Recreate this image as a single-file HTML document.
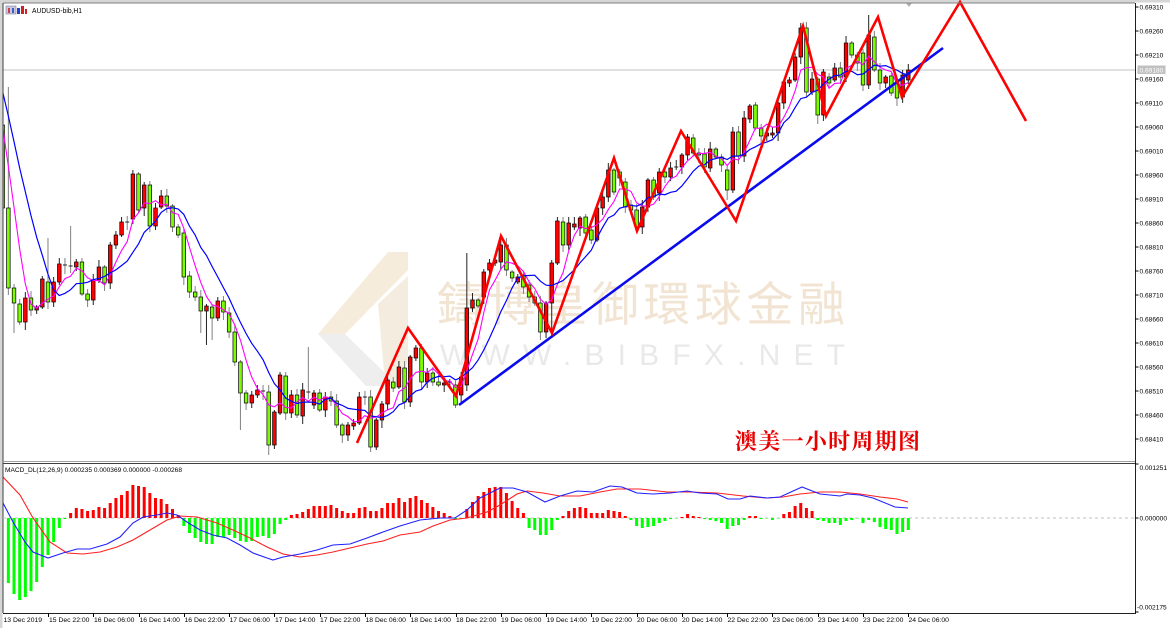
<!DOCTYPE html>
<html><head><meta charset="utf-8">
<style>
html,body{margin:0;padding:0;background:#fff;width:1170px;height:628px;overflow:hidden}
svg{display:block;position:absolute;left:0;top:0}
text{font-family:"Liberation Sans",sans-serif}
</style></head><body>
<svg id="s" xmlns="http://www.w3.org/2000/svg" width="1170" height="628" viewBox="0 0 1170 628">
<defs>
<clipPath id="mainclip"><rect x="3.5" y="3.5" width="1131" height="457"/></clipPath>
<clipPath id="macdclip"><rect x="3.5" y="464.5" width="1131" height="148"/></clipPath>
</defs>
<rect width="1170" height="628" fill="#fff"/>
<rect x="0" y="0" width="1170" height="2.5" fill="#d6d6d6"/>
<rect x="0" y="0" width="2.5" height="628" fill="#d6d6d6"/>

<!-- watermark -->
<g>
<polygon points="388,252 408,252 408,270 345,334 318,334" fill="#f6ecdc"/>
<polygon points="318,334 345,334 384,372 396,386 366,386" fill="#eeeeee"/>
<polygon points="378,304 408,276 408,362 396,386 384,372" fill="#f4ecdf"/>
<text x="437" y="321" font-size="47" textLength="408" lengthAdjust="spacing" fill="#f2e4d2" style="font-family:'Liberation Sans','Noto Sans CJK TC','Noto Sans CJK SC',sans-serif">鑄博皇御環球金融</text>
<text x="440" y="365" font-size="30" textLength="405" lengthAdjust="spacing" fill="#e9e9e9">WWW.BIBFX.NET</text>
</g>

<!-- bid line -->
<line x1="3" y1="70" x2="1135" y2="70" stroke="#c0c0c0" stroke-width="1"/>

<g clip-path="url(#mainclip)">
<g id="wicks"></g>
<g id="bodies"></g>
<polyline id="ma5" fill="none" stroke="#ff00ff" stroke-width="1.1" points=""/>
<polyline id="ma10" fill="none" stroke="#0000ff" stroke-width="1.2" points=""/>
</g>

<!-- trend lines -->
<line x1="459" y1="405" x2="943" y2="48" stroke="#0a0aee" stroke-width="2.6"/>
<polyline fill="none" stroke="#ff0000" stroke-width="2.6" stroke-linejoin="miter" points="357,443 408,328 456,396 501,236 552,333 614,158 637,231 681,131 736,221 803,26 826,116 878,17 902,97 960,2 1026,121"/>

<text x="735" y="449" font-size="22" font-weight="bold" textLength="185" lengthAdjust="spacing" fill="#e80000" style="font-family:'Liberation Serif','Noto Serif CJK SC',serif">澳美一小时周期图</text>

<!-- header -->
<rect x="6" y="6" width="10" height="8" fill="#c8c8e0" stroke="#8080a0" stroke-width="0.6"/>
<rect x="8" y="8" width="2" height="5" fill="#d04040"/>
<rect x="12" y="8" width="2" height="5" fill="#4060c0"/>
<rect x="17" y="8" width="3" height="6" fill="#2040d0"/>
<rect x="21" y="6" width="3" height="8" fill="#d02020"/>
<rect x="25" y="9" width="2" height="5" fill="#d02020"/>
<text x="32" y="13" font-size="7" textLength="50" lengthAdjust="spacingAndGlyphs">AUDUSD-bib,H1</text>
<polygon points="906,3 912,3 909,7" fill="#b0b0b0"/>

<!-- frame -->
<line x1="3" y1="3" x2="1135" y2="3" stroke="#808080" stroke-width="1"/>
<line x1="3" y1="3" x2="3" y2="613" stroke="#404040" stroke-width="1"/>
<line x1="1135.5" y1="3" x2="1135.5" y2="613.5" stroke="#202020" stroke-width="1"/>
<line x1="3" y1="461.5" x2="1135" y2="461.5" stroke="#a0a0a0" stroke-width="1"/>
<line x1="3" y1="463.5" x2="1135" y2="463.5" stroke="#404040" stroke-width="1"/>
<line x1="3" y1="613.5" x2="1136" y2="613.5" stroke="#202020" stroke-width="1"/>

<!-- price axis -->
<g font-size="6.6" fill="#000" stroke="none">
<g stroke="#000" stroke-width="1">
<line x1="1135" y1="7" x2="1138.5" y2="7"/><line x1="1135" y1="31" x2="1138.5" y2="31"/><line x1="1135" y1="55" x2="1138.5" y2="55"/><line x1="1135" y1="79" x2="1138.5" y2="79"/><line x1="1135" y1="103" x2="1138.5" y2="103"/><line x1="1135" y1="127" x2="1138.5" y2="127"/><line x1="1135" y1="151" x2="1138.5" y2="151"/><line x1="1135" y1="175" x2="1138.5" y2="175"/><line x1="1135" y1="199" x2="1138.5" y2="199"/><line x1="1135" y1="223" x2="1138.5" y2="223"/><line x1="1135" y1="247" x2="1138.5" y2="247"/><line x1="1135" y1="271" x2="1138.5" y2="271"/><line x1="1135" y1="295" x2="1138.5" y2="295"/><line x1="1135" y1="319" x2="1138.5" y2="319"/><line x1="1135" y1="343" x2="1138.5" y2="343"/><line x1="1135" y1="367" x2="1138.5" y2="367"/><line x1="1135" y1="391" x2="1138.5" y2="391"/><line x1="1135" y1="415" x2="1138.5" y2="415"/><line x1="1135" y1="439" x2="1138.5" y2="439"/>
<line x1="1135" y1="464" x2="1138.5" y2="464"/><line x1="1135" y1="518" x2="1138.5" y2="518"/><line x1="1135" y1="612" x2="1138.5" y2="612"/>
</g>
<text x="1139.5" y="9.4">0.69310</text>
<text x="1139.5" y="33.4">0.69260</text>
<text x="1139.5" y="57.4">0.69210</text>
<text x="1139.5" y="81.4">0.69160</text>
<text x="1139.5" y="105.4">0.69110</text>
<text x="1139.5" y="129.4">0.69060</text>
<text x="1139.5" y="153.4">0.69010</text>
<text x="1139.5" y="177.4">0.68960</text>
<text x="1139.5" y="201.4">0.68910</text>
<text x="1139.5" y="225.4">0.68860</text>
<text x="1139.5" y="249.4">0.68810</text>
<text x="1139.5" y="273.4">0.68760</text>
<text x="1139.5" y="297.4">0.68710</text>
<text x="1139.5" y="321.4">0.68660</text>
<text x="1139.5" y="345.4">0.68610</text>
<text x="1139.5" y="369.4">0.68560</text>
<text x="1139.5" y="393.4">0.68510</text>
<text x="1139.5" y="417.4">0.68460</text>
<text x="1139.5" y="441.4">0.68410</text>
<rect x="1137.5" y="65.5" width="28" height="8.5" fill="#c0c0c0"/>
<text x="1139.5" y="72.4" fill="#fff">0.69180</text>
<text x="1139.5" y="469.8">0.001251</text>
<text x="1139.5" y="520.4">0.000000</text>
<text x="1137" y="609.6">-0.002175</text>
</g>

<!-- MACD panel -->
<line x1="3" y1="518" x2="1135" y2="518" stroke="#c0c0c0" stroke-width="1" stroke-dasharray="3,3"/>
<g clip-path="url(#macdclip)">
<g id="hist"></g>
<polyline fill="none" stroke="#ff2020" stroke-width="1.1" points="3,477 20,495 33,518 50,542 67,553 83,554 100,552 117,547 133,540 150,530 167,520 180,516 197,517 217,523 233,530 250,538 267,547 283,554 300,557 317,555 333,552 350,548 367,544 383,541 400,535 420,532 433,526 450,520 467,518 487,512 500,505 517,494 527,491 543,493 560,496 580,496 600,492 617,489 640,489 667,492 690,492 717,493 743,496 767,498 783,497 800,494 820,492 840,492 860,494 880,497 897,499 908,502"/>
<polyline fill="none" stroke="#2020ff" stroke-width="1.1" points="3,503 13,522 25,542 33,552 48,558 63,553 77,549 90,549 107,544 120,537 133,523 143,517 157,515 167,513 177,515 187,522 200,530 213,535 227,538 240,545 253,553 267,558 273,560 283,557 300,554 317,550 333,545 350,544 367,538 383,532 400,526 420,520 440,518 455,518 467,510 480,498 500,488 513,488 527,492 545,502 560,496 577,491 593,492 610,486 622,487 637,493 653,494 670,493 687,491 700,493 717,494 728,499 740,499 750,496 767,498 780,497 802,487 820,494 840,496 847,494 860,495 873,498 895,507 908,508"/>
</g>
<text x="5" y="472" font-size="6.6" textLength="177" lengthAdjust="spacingAndGlyphs">MACD_DL(12,26,9) 0.000235 0.000369 0.000000 -0.000268</text>

<!-- time axis -->
<g id="tticks" stroke="#000" stroke-width="1"></g>
<g font-size="6.8" fill="#000">
<text x="3.5" y="622">13 Dec 2019</text>
<text x="49" y="622">15 Dec 22:00</text>
<text x="94" y="622">16 Dec 06:00</text>
<text x="139.5" y="622">16 Dec 14:00</text>
<text x="184.5" y="622">16 Dec 22:00</text>
<text x="229.5" y="622">17 Dec 06:00</text>
<text x="275" y="622">17 Dec 14:00</text>
<text x="320" y="622">17 Dec 22:00</text>
<text x="365.5" y="622">18 Dec 06:00</text>
<text x="410.5" y="622">18 Dec 14:00</text>
<text x="456" y="622">18 Dec 22:00</text>
<text x="501" y="622">19 Dec 06:00</text>
<text x="546.5" y="622">19 Dec 14:00</text>
<text x="591.5" y="622">19 Dec 22:00</text>
<text x="637" y="622">20 Dec 06:00</text>
<text x="682" y="622">20 Dec 14:00</text>
<text x="727.5" y="622">22 Dec 22:00</text>
<text x="772.5" y="622">23 Dec 06:00</text>
<text x="818" y="622">23 Dec 14:00</text>
<text x="863" y="622">23 Dec 22:00</text>
<text x="908.5" y="622">24 Dec 06:00</text>
</g>
</svg>
<script>
(function(){
var NS="http://www.w3.org/2000/svg";
function el(t,a,p){var e=document.createElementNS(NS,t);for(var k in a)e.setAttribute(k,a[k]);p.appendChild(e);return e;}
var X0=2.7,DX=5.66;
var D=[[125,208],[208,288],[288,303],[304,322],[322,298],[298,310],[310,307],[307,279],[282,302],[302,282],
[282,264],[265,266],[266,267],[267,262],[262,294],[294,300],[300,280],[280,267],[267,283],[283,245],
[245,235],[235,222],[222,223],[219,174],[174,210],[208,185],[185,226],[226,208],[207,196],[196,206],
[206,227],[227,235],[233,277],[276,292],[292,297],[297,311],[311,306],[307,318],[318,301],[301,312],
[313,332],[332,362],[362,393],[393,403],[403,395],[395,390],[391,392],[392,445],[445,412],[413,375],
[376,413],[413,395],[395,415],[416,390],[392,393],[405,393],[393,410],[410,397],[397,401],[401,425],
[425,435],[435,425],[426,423],[423,397],[397,398],[397,447],[447,420],[420,404],[404,380],[382,388],
[387,367],[368,402],[402,357],[358,348],[348,382],[382,373],[373,382],[382,385],[385,383],[383,382],
[385,405],[395,377],[385,308],[308,300],[300,306],[297,272],[270,263],[263,260],[262,245],[245,270],
[272,278],[282,277],[275,287],[285,297],[297,303],[303,332],[332,303],[303,263],[263,221],[222,245],
[245,223],[227,224],[228,218],[217,233],[230,240],[240,208],[208,197],[197,170],[170,192],[172,178],
[182,207],[205,210],[210,227],[227,207],[207,180],[180,197],[193,172],[172,177],[177,168],[168,167],
[167,155],[155,137],[138,153],[153,155],[154,167],[168,149],[149,157],[157,165],[170,190],[190,132],
[132,156],[156,118],[119,106],[105,128],[128,136],[136,133],[135,133],[133,103],[103,82],[83,80],
[80,57],[57,28],[28,92],[92,79],[79,115],[115,72],[77,83],[80,68],[68,77],[77,43],
[43,55],[55,63],[53,85],[85,35],[37,70],[70,83],[83,77],[76,93],[83,98],[97,75],[80,70]];
var W={1:[87,null],2:[null,333],8:[238,null],12:[226,null],23:[170,null],35:[null,333],36:[null,345],37:[null,340],42:[null,430],47:[null,455],54:[347,null],65:[null,452],82:[253,null],95:[null,340],97:[null,338],128:[null,200],141:[23,null],144:[null,124],153:[15,null]};
var gw=document.getElementById('wicks'),gb=document.getElementById('bodies');
D.forEach(function(d,i){
 var x=X0+DX*i,o=d[0],c=d[1],top=Math.min(o,c),bot=Math.max(o,c);
 var hi=top-(2+((i*7)%6)),lo=bot+(2+((i*5)%7));
 if(W[i]){if(W[i][0]!=null)hi=W[i][0];if(W[i][1]!=null)lo=W[i][1];}
 var up=c<o;
 el('line',{x1:x,x2:x,y1:hi,y2:lo,stroke:up?'#222':'#808080','stroke-width':1},gw);
 if(bot-top<1.5){el('line',{x1:x-2,x2:x+2,y1:top,y2:top,stroke:'#222','stroke-width':1},gb);}
 else el('rect',{x:x-1.8,y:top,width:3.6,height:bot-top,fill:up?'#ff0000':'#7cfc00',stroke:'#000','stroke-width':0.7},gb);
});
var pre=[45,50,57,63,70,90,100,112,125];
var C=pre.concat(D.map(function(d){return d[1];}));
function sma(n){var p=[];for(var i=0;i<D.length;i++){var j=i+pre.length,s=0;for(var k=0;k<n;k++)s+=C[j-k];p.push((X0+DX*i).toFixed(1)+','+(s/n).toFixed(1));}return p.join(' ');}
document.getElementById('ma5').setAttribute('points',sma(5));
document.getElementById('ma10').setAttribute('points',sma(10));
var H=[0,-65,-76,-82,-79,-73,-64,-49,-37,-24,-10,-1,5,10,9,7,8,11,10,15,20,23,27,33,32,31,25,20,19,14,9,3,-8,-15,-20,-24,-26,-26,-19,-19,-17,-20,-23,-24,-23,-19,-18,-20,-16,-6,-2,3,4,6,9,12,12,12,13,10,7,5,5,10,11,7,7,10,15,15,20,16,20,22,18,15,11,7,5,2,-1,0,9,16,22,26,30,31,31,25,17,10,5,-10,-12,-17,-17,-12,-2,2,7,10,11,10,5,5,5,8,7,6,2,-2,-8,-10,-9,-8,-5,-3,-1,0,1,4,2,1,-1,-2,-3,-5,-11,-8,-7,-2,2,2,-1,0,-2,0,4,6,12,15,10,7,-2,-3,-5,-5,-7,-3,-2,0,-5,-2,-4,-9,-11,-12,-16,-14,-12];
var gh=document.getElementById('hist');
H.forEach(function(h,i){
 if(i==0)return;
 var x=X0+DX*i,a=Math.abs(h)||1;
 el('rect',{x:x-1.5,y:h>0?518-h:518,width:3,height:a,fill:h>0?'#ff0000':(h<0?'#00ff00':'#90ff90')},gh);
});
var gt=document.getElementById('tticks');
for(var k=1;k<=20;k++){var x=Math.round(X0+DX*8*k)+0.5;el('line',{x1:x,x2:x,y1:613,y2:617},gt);}
})();
</script>
</body></html>
